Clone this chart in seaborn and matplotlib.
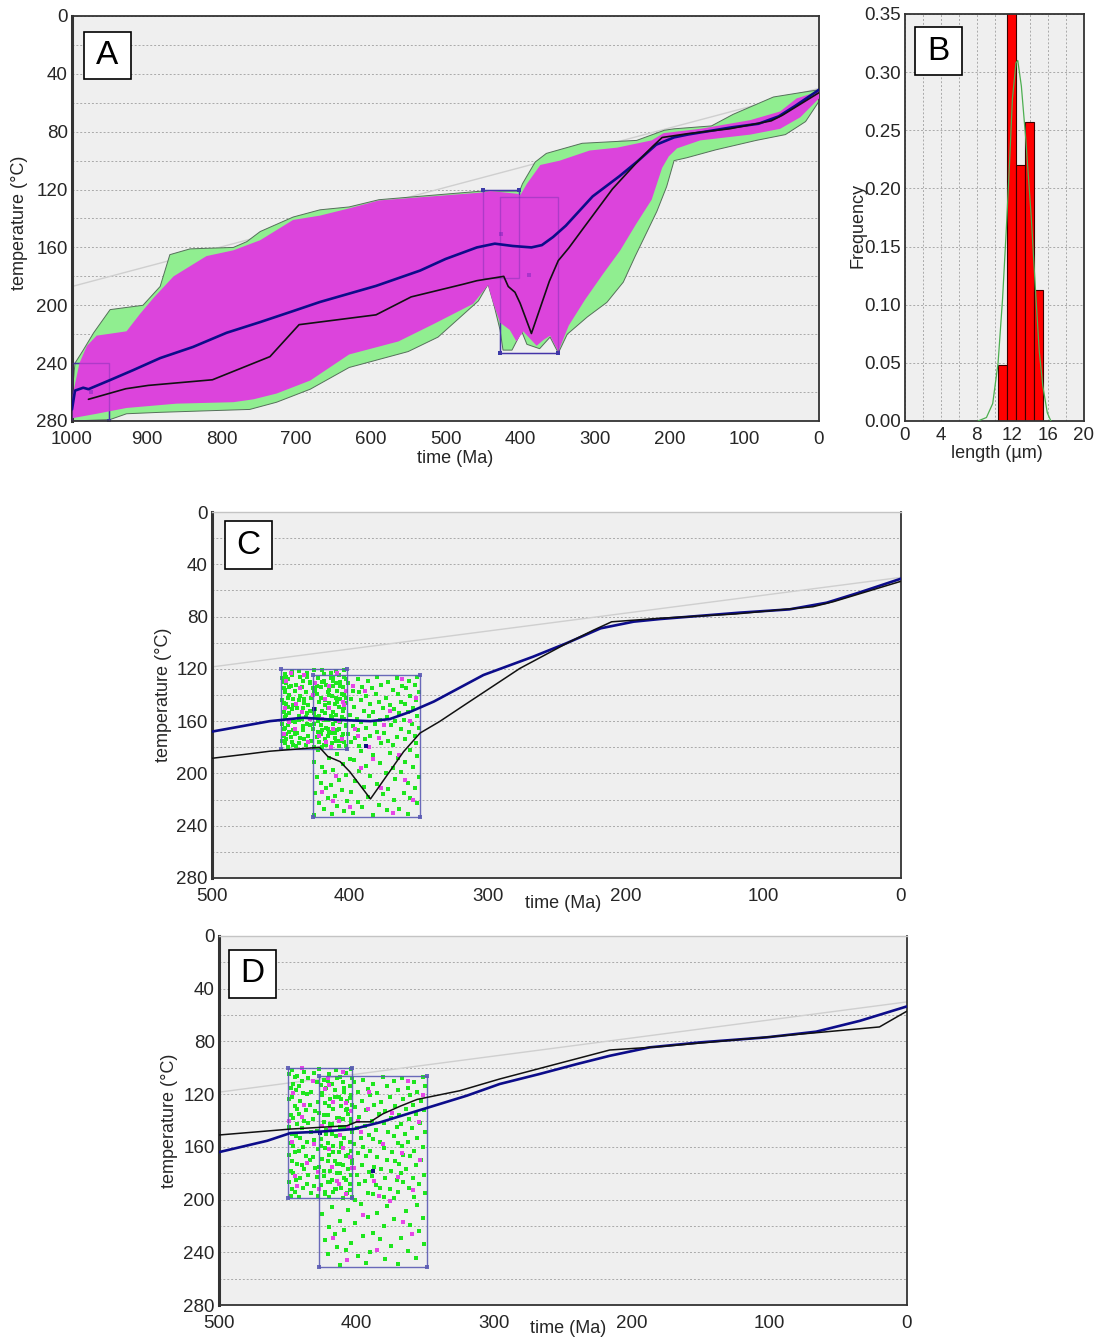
import numpy as np
import matplotlib
matplotlib.use("Agg")
import matplotlib.pyplot as plt
from matplotlib.patches import Rectangle
from matplotlib.ticker import MultipleLocator, FormatStrFormatter
import seaborn as sns

# ---------------------------------------------------------------- data
# Panel A: envelopes of acceptable (green) and good (magenta) paths
ACC_UPPER_AGE = [1000, 996, 985, 971, 949, 905, 882, 869, 842, 784, 766, 748, 704, 668, 629, 589,
                 450, 403, 400, 397, 380, 365, 317, 244, 207, 194, 144, 115, 61, 25, 0]
ACC_UPPER_TEMP = [262, 240, 231, 219, 203, 200, 187, 165, 161, 160, 156, 149, 139, 134, 132, 127,
                  121, 121, 120, 116, 101, 95, 88, 86, 79, 78, 76, 68, 56, 53, 51]
ACC_LOWER_AGE = [1000, 949, 927, 882, 762, 726, 681, 629, 550, 510, 456, 443, 435, 427, 423, 411,
                 398, 391, 374, 360, 349, 337, 310, 284, 262, 246, 231, 217, 204, 194, 177, 138,
                 84, 45, 18, 0]
ACC_LOWER_TEMP = [280, 279, 275, 274, 272, 267, 258, 243, 232, 222, 197, 185.5, 200, 217, 231, 231,
                  218, 227, 230, 222, 233, 220, 208, 198, 184, 166, 150, 135, 118, 100, 98, 92.5,
                  86, 82, 73, 59]
GOOD_UPPER_AGE = [999, 990, 980, 967, 927, 909, 891, 864, 820, 784, 748, 704, 668, 629, 589, 450,
                  440, 403, 400, 391, 373, 347, 307, 270, 224, 208, 159, 92, 52, 30, 0]
GOOD_UPPER_TEMP = [262, 240, 228, 221, 218, 206, 195, 180, 166, 162, 155, 141, 138, 133, 127.5, 122,
                   121, 123, 124, 116, 103, 100, 93, 91, 86, 81, 78, 72, 66, 57, 52]
GOOD_LOWER_AGE = [999, 967, 927, 860, 784, 757, 726, 681, 629, 563, 516, 463, 443, 437, 427, 414,
                  405, 396, 378, 369, 360, 349, 335, 313, 290, 266, 245, 224, 210, 201, 190, 159,
                  92, 52, 25, 0]
GOOD_LOWER_TEMP = [278, 275, 271, 268, 267, 265, 261, 252, 234, 225, 213, 199, 186, 197, 212, 217,
                   225, 218, 228, 224, 221, 232, 214, 196, 179, 162, 144, 127, 105, 97, 91.5, 86,
                   82, 78, 70, 57]

# Model 1 (panels A and C): best-fit path and weighted mean path
BEST1_AGE = [978, 928, 898, 812, 735, 696, 593, 546, 476, 458, 422, 416, 407, 400, 385, 361, 349,
             335, 315, 276.5, 242.6, 223, 210, 175, 120, 64, 49, 0]
BEST1_TEMP = [265, 257.7, 255.4, 251.5, 235.5, 213.4, 206.6, 194.2, 185.4, 183, 180, 187, 191,
              198.7, 219.5, 183.4, 169.1, 160.4, 146.4, 119.6, 100.5, 90.3, 84, 81.3, 78, 72.5,
              68.6, 53]
MEAN1_AGE = [1000, 996, 985, 978, 949, 918, 882, 838, 793, 748, 704, 668, 593, 534, 500, 458, 434,
             410, 385, 371, 356, 339, 303, 267, 243, 218, 194, 175, 117, 81, 54, 32, 0]
MEAN1_TEMP = [272, 259, 257, 258, 251.7, 244.8, 236.5, 228.8, 219, 211.6, 204, 197.7, 186.6, 176,
              168, 160, 157.4, 159, 160, 158.4, 152.8, 145, 124.7, 110.7, 100.5, 89, 83.9, 81.9,
              77, 74.5, 69.4, 62.2, 51]

# Model 2 (panel D)
BEST2_AGE = [500, 448, 407, 400, 390, 381, 368, 356, 325, 296, 216, 180, 62, 20, 0]
BEST2_TEMP = [151, 146.5, 144, 141, 141, 135, 129, 124, 117.4, 108.5, 86.5, 84, 73, 69, 57]
MEAN2_AGE = [500, 465, 448, 427, 402, 393, 383, 349, 320, 296, 267, 240, 216, 187, 150, 102, 66, 34, 0]
MEAN2_TEMP = [164, 155.4, 149.5, 148.5, 146.5, 144, 141.4, 130.5, 121.2, 112.3, 104.7, 97.2, 90.9,
              84.5, 80.7, 76.9, 72.6, 64.3, 53.4]

# Reference line (surface / gradient)
REF_AGE = [1000, 0]
REF_TEMP = [187, 50]

# Constraint boxes: (oldest age, youngest age, top temp, bottom temp)
BOXES_1 = [(1000, 950, 240, 280), (450, 402, 120, 181), (427, 349, 125, 233)]
BOXES_2 = [(450, 403, 100, 199), (427, 349, 106, 251)]

# Sampled points inside the constraint boxes (age, temperature)
C_BOX1_GOOD = """
404 121 414 123 426 121 437 122 447 124 408 125 419 124 431 126 442 125 449 127
403 128 412 129 423 127 434 129 445 128 410 131 417 132 429 130 439 132 446 131
405 134 421 134 427 135 443 133 448 135 409 137 415 136 432 138 440 137 447 138
404 140 413 141 424 139 436 141 444 140 407 143 418 144 428 142 441 143 449 144
403 146 411 147 422 145 433 146 446 147 408 149 416 150 430 148 438 150 445 149
405 152 420 152 426 153 442 151 448 153 410 155 414 156 431 154 437 156 446 155
404 158 419 159 425 157 435 158 443 159 407 161 412 162 423 160 440 161 449 162
403 164 417 165 429 163 434 164 447 165 409 167 415 168 427 166 441 167 444 168
405 170 421 170 430 171 438 169 448 171 411 173 418 174 424 172 436 173 446 174
404 176 413 177 428 175 442 176 447 177 408 179 420 180 432 178 439 179 445 180
410 122 420 121 431 123 442 122 404 126 414 127 436 126 446 126 407 130 419 129
429 131 448 130 412 133 424 133 435 134 444 134 406 139 416 138 426 137 447 136
403 142 421 142 433 143 445 142 409 145 415 146 437 144 448 146 404 150 425 151
434 150 441 148 412 153 418 154 429 152 444 154 406 157 422 156 432 157 447 157
410 160 416 159 437 159 442 160 403 163 426 162 431 162 445 163 408 166 420 167
434 167 448 166 413 169 423 168 440 170 446 170 406 172 416 171 433 174 443 172
410 175 422 176 437 177 449 175 403 179 417 178 426 180 441 178
"""
C_BOX1_BEST = """
409 123 433 125 446 129 415 133 427 140 404 148 439 147 420 158 412 166 444 161
430 176 406 174 448 170 418 143 435 153 425 131 440 166 408 160 422 171 447 150
414 180 436 135 403 137 429 158 443 123 417 176
"""
C_BOX2_GOOD = """
351 126 366 127 380 126 394 128 412 127 357 129 372 130 387 129 401 131 420 130
353 132 362 133 377 132 391 134 407 133 359 135 369 136 384 135 398 137 425 136
350 138 365 139 381 139 393 138 415 140 356 141 374 142 388 141 399 143 410 142
352 144 363 145 379 145 392 144 422 145 360 147 371 148 385 147 397 149 418 148
354 150 368 151 376 150 390 152 405 151 358 153 364 154 383 153 400 155 426 154
351 156 373 157 386 156 395 158 413 157 361 159 367 160 378 159 392 161 409 160
355 162 370 163 382 162 398 164 421 163 350 165 363 166 388 165 394 167 416 166
357 168 375 169 380 168 401 170 411 169 353 171 366 172 385 171 396 173 424 172
360 174 372 175 389 174 399 176 407 175 352 177 369 178 377 177 393 179 419 178
356 182 371 184 392 183 409 185 423 182 351 187 365 188 383 186 400 189 415 188
360 191 378 192 397 190 405 193 426 191 354 195 369 196 388 194 412 197 420 195
363 199 374 200 393 198 403 201 418 199 350 203 367 204 385 202 408 205 424 203
358 207 380 208 396 206 414 209 421 207 353 211 372 212 390 210 406 213 417 211
361 215 376 216 399 214 411 217 425 215 356 219 368 220 387 218 402 221 416 219
351 223 379 224 394 222 409 225 422 223 364 227 373 228 391 226 404 229 419 227
358 231 383 232 398 230 413 231 426 232
"""
C_BOX2_BEST = """
362 128 389 137 405 145 371 152 356 160 396 166 379 173 415 150 364 186 392 196
410 202 377 211 354 220 400 226 386 180 420 214 369 230 352 142 398 133 383 189
412 221 360 205 394 171 375 163
"""
D_BOX1_GOOD = """
404 101 415 102 427 101 438 103 447 102 408 104 420 105 431 104 443 106 449 105
403 108 412 107 424 109 435 108 445 107 410 111 418 112 429 111 440 110 446 112
405 114 422 115 426 113 442 114 448 115 409 118 416 117 433 118 439 119 444 117
404 121 413 122 425 121 436 120 447 122 407 125 419 124 428 126 441 125 449 124
403 128 411 129 423 127 434 128 445 129 408 132 417 131 430 133 437 132 443 131
406 135 421 136 427 134 442 135 448 136 410 139 414 138 432 139 438 140 446 138
404 142 419 143 424 141 435 142 443 143 407 146 412 145 422 147 440 146 449 145
403 149 418 150 429 148 433 149 447 150 409 153 415 152 426 154 441 153 444 152
405 156 421 157 431 155 436 156 448 157 411 160 417 159 423 161 439 160 446 159
404 163 413 164 428 162 442 163 445 164 408 167 420 166 432 168 437 167 449 166
403 170 416 171 425 169 434 170 447 171 410 174 414 173 427 175 440 174 443 173
406 177 419 178 430 176 438 177 448 178 404 181 412 180 424 182 435 181 446 180
409 184 418 185 429 183 441 184 444 185 405 188 421 187 426 189 436 188 449 187
411 191 415 192 431 190 439 191 447 192 407 195 417 194 423 196 433 195 445 194
403 198 420 198 428 197 442 198 448 197
"""
D_BOX1_BEST = """
410 103 432 110 446 119 417 126 404 133 440 137 425 144 412 151 447 156 420 162
405 168 436 172 428 179 414 186 443 190 408 196 423 116 438 128 406 145 431 158
418 175 445 182 427 192 413 140 440 100 421 108 403 176 449 140
"""
D_BOX2_GOOD = """
352 107 367 108 381 107 395 109 414 108 358 111 373 110 388 112 402 111 421 110
350 114 363 115 378 114 392 116 409 115 356 118 370 117 385 119 399 118 425 119
361 121 376 122 390 121 405 123 416 122 353 125 366 124 382 126 396 125 411 124
359 128 372 129 387 128 401 130 420 129 351 132 364 131 379 133 393 132 407 131
357 135 369 136 384 135 398 137 424 136 362 139 375 138 389 140 404 139 413 138
354 142 368 143 380 142 394 144 418 143 360 146 371 145 386 147 400 146 409 145
350 149 365 150 377 149 391 151 422 150 356 153 373 152 388 154 397 153 415 152
363 156 370 157 383 156 402 158 411 157 352 160 367 159 380 161 395 160 426 159
358 163 374 164 390 163 399 165 417 164 361 167 366 166 385 168 393 167 406 166
353 170 372 171 378 170 403 172 421 171 357 174 369 173 387 175 396 174 412 173
364 177 375 178 382 177 391 179 424 178 351 181 368 180 389 182 400 181 414 180
359 184 371 185 379 184 394 186 408 185 355 188 366 187 386 189 398 188 419 187
362 191 376 192 383 191 405 193 416 192 350 195 370 194 388 196 392 195 423 194
358 198 373 199 380 198 401 200 410 199
356 204 378 205 397 203 418 206 364 209 385 210 406 208 425 211 352 214 373 215
392 213 412 216 361 219 380 220 401 218 420 221 355 224 388 225 409 223 416 226
368 229 383 230 395 228 423 231 351 234 375 235 404 233 414 236 363 239 390 240
408 238 421 241 357 244 379 245 399 243 370 249 393 248 412 250
"""
D_BOX2_BEST = """
363 110 391 118 408 127 374 134 355 141 397 149 381 158 419 146 367 165 402 176
387 186 359 193 413 188 376 201 395 212 360 226 385 238 407 246 352 121 420 113
399 140 370 183 410 161 384 197 366 217 417 229 354 170 392 131
"""

# Panel B: track-length histogram and fitted curve
LEN_EDGES = [10.4, 11.4, 12.4, 13.4, 14.4, 15.4]
LEN_FREQ = [0.048, 0.362, 0.22, 0.257, 0.113]
FIT_LEN = [8.15, 9.1, 9.8, 10.4, 10.9, 11.3, 11.7, 12.0, 12.4, 12.6, 13.0, 13.5, 14.1, 14.6,
           15.0, 15.4, 15.9, 16.3]
FIT_FREQ = [0.0, 0.003, 0.015, 0.05, 0.105, 0.162, 0.225, 0.277, 0.308, 0.31, 0.288, 0.242,
            0.176, 0.11, 0.06, 0.03, 0.007, 0.0]

# ---------------------------------------------------------------- style
sns.set_theme(style="white")
plt.rcParams["font.family"] = ["Liberation Sans", "DejaVu Sans"]

BG = "#efefef"
GREEN_FILL = "#90ee90"
MAGENTA_FILL = "#dc44dc"
MEAN_COL = "#0c0c8a"
BEST_COL = "#111111"
REF_COL = "#cfcfcf"
BOX_COL = "#5a5ab4"
PT_GREEN = "#1ee61e"
PT_MAGENTA = "#e646e6"
SPINE = "#333333"
TICK_FS = 13.5
LABEL_FS = 13

W, H = 1098, 1340
fig = plt.figure(figsize=(W / 100, H / 100), dpi=100)
fig.patch.set_facecolor("white")


def rect(l, t, r, b):
    return [l / W, 1 - b / H, (r - l) / W, (b - t) / H]


def parse_points(s):
    a = np.array(s.split(), dtype=float).reshape(-1, 2)
    return a[:, 0], a[:, 1]


def draw_line(ax, age, temp, color, lw, z):
    sns.lineplot(x=age, y=temp, ax=ax, color=color, linewidth=lw, sort=False,
                 estimator=None, legend=False, zorder=z)


def draw_box(ax, box, color, lw, alpha, z, corners=True):
    t0, t1, T0, T1 = box
    ax.plot([t0, t1, t1, t0, t0], [T0, T0, T1, T1, T0], color=color, lw=lw,
            alpha=alpha, zorder=z, solid_joinstyle="miter")
    if corners:
        ax.plot([t0, t1, t1, t0], [T0, T0, T1, T1], "s", color=color, ms=2.6,
                alpha=alpha, zorder=z, mew=0)


def box_centre(ax, box, color, alpha, z):
    t0, t1, T0, T1 = box
    ax.plot([(t0 + t1) / 2], [(T0 + T1) / 2], "s", color=color, ms=3.2, mew=0,
            alpha=alpha, zorder=z)


def style_tT_axes(ax, xmax, top_dark):
    ax.set_facecolor(BG)
    ax.set_xlim(xmax, 0)
    ax.set_ylim(280, 0)
    ax.xaxis.set_major_locator(MultipleLocator(100))
    ax.yaxis.set_major_locator(MultipleLocator(40))
    ax.yaxis.set_minor_locator(MultipleLocator(20))
    ax.yaxis.grid(True, which="both", ls=(0, (2, 2)), color="#a9a9a9", lw=0.7)
    ax.xaxis.grid(False)
    ax.set_axisbelow(True)
    ax.tick_params(axis="x", which="major", direction="out", length=4, width=1,
                   color=SPINE, labelsize=TICK_FS, pad=3)
    ax.tick_params(axis="y", which="both", length=0, labelsize=TICK_FS, pad=3)
    for side in ["left", "bottom", "right", "top"]:
        ax.spines[side].set_visible(True)
        ax.spines[side].set_color(SPINE)
        ax.spines[side].set_linewidth(1.3)
    ax.spines["left"].set_linewidth(2.2)
    if not top_dark:
        ax.spines["top"].set_color("#c4c4c4")
        ax.spines["top"].set_linewidth(1.0)


def letter_box(letter, l, t, r, b):
    fig.add_artist(Rectangle((l / W, 1 - b / H), (r - l) / W, (b - t) / H,
                             transform=fig.transFigure, facecolor="white",
                             edgecolor="black", lw=1.2, zorder=20))
    fig.text((l + r) / 2 / W, 1 - (t + b) / 2 / H, letter, ha="center", va="center",
             fontsize=24, color="black", zorder=21)


# ---------------------------------------------------------------- panel A
axA = fig.add_axes(rect(72, 16, 819, 421))
draw_line(axA, REF_AGE, REF_TEMP, REF_COL, 1.0, 0.8)
axA.fill(np.r_[ACC_UPPER_AGE, ACC_LOWER_AGE[::-1]],
         np.r_[ACC_UPPER_TEMP, ACC_LOWER_TEMP[::-1]],
         facecolor=GREEN_FILL, edgecolor="#55705a", lw=0.7, zorder=1)
for bx in BOXES_1:
    draw_box(axA, bx, "#3b3ba8", 1.0, 1.0, 2)
axA.fill(np.r_[GOOD_UPPER_AGE, GOOD_LOWER_AGE[::-1]],
         np.r_[GOOD_UPPER_TEMP, GOOD_LOWER_TEMP[::-1]],
         facecolor=MAGENTA_FILL, edgecolor="none", zorder=3)
for bx in BOXES_1:
    draw_box(axA, bx, "#5a2aa8", 1.0, 0.35, 4, corners=False)
    box_centre(axA, bx, "#8a2ac0", 0.6, 4)
draw_line(axA, MEAN1_AGE, MEAN1_TEMP, MEAN_COL, 1.9, 6)
draw_line(axA, BEST1_AGE, BEST1_TEMP, BEST_COL, 1.2, 7)
style_tT_axes(axA, 1000, top_dark=True)
axA.set_xticks(range(0, 1001, 100))
axA.set_xlabel("time (Ma)", fontsize=LABEL_FS)
axA.xaxis.set_label_coords(0.513, -0.072)
axA.set_ylabel("temperature (°C)", fontsize=LABEL_FS)
axA.yaxis.set_label_coords(-0.059, 0.49)

# ---------------------------------------------------------------- panel B
axB = fig.add_axes(rect(905, 14, 1084, 421))
axB.set_facecolor(BG)
centres = [(a + b) / 2 for a, b in zip(LEN_EDGES[:-1], LEN_EDGES[1:])]
sns.histplot(x=centres, weights=LEN_FREQ, bins=LEN_EDGES, stat="count", ax=axB,
             color="#ff0000", alpha=1.0, edgecolor="#3a0000", linewidth=0.8, zorder=2)
draw_line(axB, FIT_LEN, FIT_FREQ, "#4caf50", 0.9, 3)
axB.set_xlim(0, 20)
axB.set_ylim(0, 0.35)
axB.xaxis.set_major_locator(MultipleLocator(4))
axB.xaxis.set_minor_locator(MultipleLocator(2))
axB.yaxis.set_major_locator(MultipleLocator(0.05))
axB.yaxis.set_major_formatter(FormatStrFormatter("%.2f"))
axB.grid(True, which="both", axis="both", ls=(0, (2, 2)), color="#a9a9a9", lw=0.7)
axB.set_axisbelow(True)
axB.tick_params(axis="x", which="both", direction="out", length=3, width=1,
                color=SPINE, labelsize=TICK_FS, pad=1)
axB.tick_params(axis="y", which="both", length=0, labelsize=TICK_FS, pad=3)
for side in ["left", "bottom", "right", "top"]:
    axB.spines[side].set_visible(True)
    axB.spines[side].set_color(SPINE)
    axB.spines[side].set_linewidth(1.3)
axB.set_xlabel("length (µm)", fontsize=LABEL_FS)
axB.xaxis.set_label_coords(0.514, -0.059)
axB.set_ylabel("Frequency", fontsize=LABEL_FS)
axB.yaxis.set_label_coords(-0.215, 0.48)


# ---------------------------------------------------------------- panels C and D
def tT_detail(ax, boxes, clouds, mean, best):
    draw_line(ax, REF_AGE, REF_TEMP, REF_COL, 1.0, 1)
    for good, best_pts in clouds:
        gx, gy = parse_points(good)
        sns.scatterplot(x=gx, y=gy, ax=ax, color=PT_GREEN, marker="s", s=5.5,
                        linewidth=0, legend=False, zorder=2)
        bx_, by_ = parse_points(best_pts)
        sns.scatterplot(x=bx_, y=by_, ax=ax, color=PT_MAGENTA, marker="s", s=5.5,
                        linewidth=0, legend=False, zorder=2.5)
    for bx in boxes:
        draw_box(ax, bx, BOX_COL, 1.0, 0.9, 3)
        box_centre(ax, bx, "#101080", 1.0, 3)
    draw_line(ax, mean[0], mean[1], MEAN_COL, 1.9, 5)
    draw_line(ax, best[0], best[1], BEST_COL, 1.1, 6)
    style_tT_axes(ax, 500, top_dark=False)
    ax.set_xticks(range(0, 501, 100))


axC = fig.add_axes(rect(212, 512, 901, 878))
tT_detail(axC, BOXES_1[1:],
          [(C_BOX1_GOOD, C_BOX1_BEST), (C_BOX2_GOOD, C_BOX2_BEST)],
          (MEAN1_AGE, MEAN1_TEMP), (BEST1_AGE, BEST1_TEMP))
axC.set_xlim(500, 0)
axC.set_xlabel("time (Ma)", fontsize=LABEL_FS)
axC.xaxis.set_label_coords(0.509, -0.046)
axC.set_ylabel("temperature (°C)", fontsize=LABEL_FS)
axC.yaxis.set_label_coords(-0.058, 0.5)

axD = fig.add_axes(rect(219, 936, 907, 1305))
tT_detail(axD, BOXES_2,
          [(D_BOX1_GOOD, D_BOX1_BEST), (D_BOX2_GOOD, D_BOX2_BEST)],
          (MEAN2_AGE, MEAN2_TEMP), (BEST2_AGE, BEST2_TEMP))
axD.set_xlim(500, 0)
axD.set_xlabel("time (Ma)", fontsize=LABEL_FS)
axD.xaxis.set_label_coords(0.507, -0.041)
axD.set_ylabel("temperature (°C)", fontsize=LABEL_FS)
axD.yaxis.set_label_coords(-0.06, 0.5)

# ---------------------------------------------------------------- panel letters
letter_box("A", 84, 32, 131, 79)
letter_box("B", 915, 27, 962, 75)
letter_box("C", 225, 521, 272, 569)
letter_box("D", 229, 950, 276, 998)

fig.savefig("out.png", dpi=100)
